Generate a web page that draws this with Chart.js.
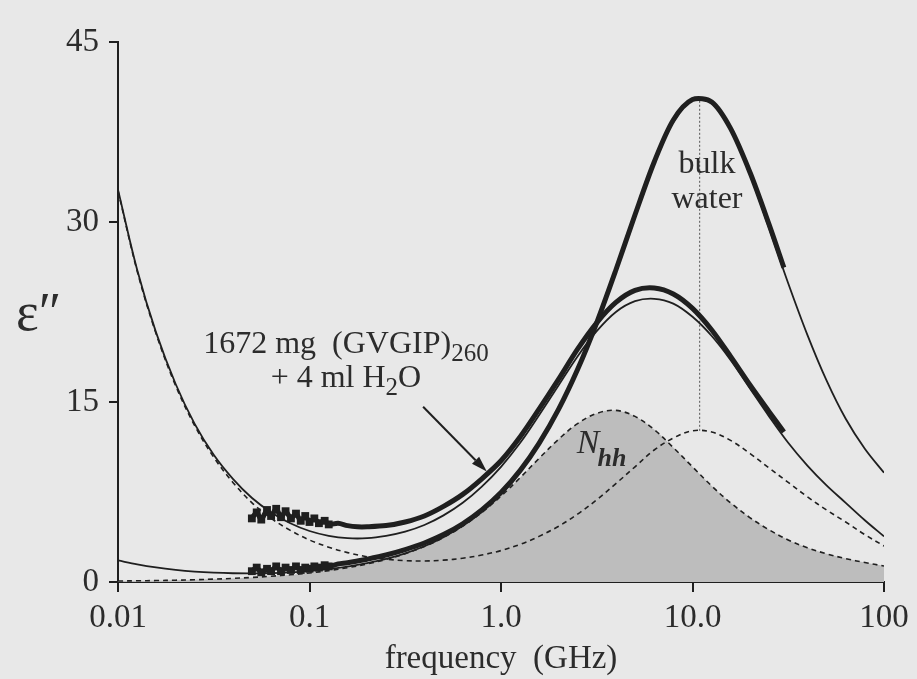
<!DOCTYPE html>
<html>
<head>
<meta charset="utf-8">
<script src="https://cdn.jsdelivr.net/npm/chart.js@4.4.1/dist/chart.umd.min.js"></script>
<style>
  html, body { margin: 0; padding: 0; background: #e8e8e8; }
  #wrap { width: 917px; height: 679px; position: relative; }
</style>
</head>
<body>
<div id="wrap"><canvas id="c" width="917" height="679"></canvas></div>
<script>
// ---- tick values / labels ----
const xTickVals = [0.01, 0.1, 1, 10, 100];
const xTickLabels = ['0.01', '0.1', '1.0', '10.0', '100'];
const yTickVals = [0, 15, 30, 45];

// ---- fitted curves (frequency in GHz) ----
const freqFit = [0.01, 0.0126, 0.0158, 0.02, 0.0251, 0.0316, 0.0398, 0.0501, 0.0631, 0.0794,
                 0.1, 0.126, 0.158, 0.2, 0.251, 0.316, 0.398, 0.501, 0.631, 0.794,
                 1, 1.26, 1.58, 2, 2.51, 3.16, 3.98, 5.01, 6.31, 7.94,
                 10, 12.6, 15.8, 20, 25.1, 31.6, 39.8, 50.1, 63.1, 79.4, 100];

// total fit for the (GVGIP)260 sample
const proteinFit = [32.7, 26.0, 20.8, 16.5, 13.2, 10.6, 8.6, 7.0, 5.8, 4.9,
                    4.25, 3.85, 3.65, 3.65, 3.85, 4.2, 4.75, 5.55, 6.6, 7.95,
                    9.6, 11.6, 13.9, 16.4, 18.8, 20.9, 22.5, 23.4, 23.6, 23.2,
                    22.1, 20.5, 18.5, 16.1, 13.8, 11.6, 9.7, 8.05, 6.6, 5.15, 3.8];

// dashed: conductivity + bulk-water-like component of the sample
const waterComponent = [32.6, 25.9, 20.7, 16.35, 13.05, 10.4, 8.3, 6.6, 5.3, 4.3,
                        3.5, 2.9, 2.45, 2.1, 1.9, 1.78, 1.75, 1.82, 1.98, 2.25,
                        2.62, 3.14, 3.8, 4.65, 5.65, 6.85, 8.2, 9.6, 11.0, 12.0,
                        12.6, 12.5, 11.8, 10.7, 9.5, 8.3, 7.1, 6.0, 5.0, 3.95, 3.0];

// dashed + shaded: N_hh component
const nhhComponent = [0.08, 0.1, 0.12, 0.15, 0.19, 0.24, 0.3, 0.38, 0.48, 0.6,
                      0.75, 0.95, 1.19, 1.5, 1.88, 2.36, 2.96, 3.71, 4.65, 5.8,
                      7.15, 8.7, 10.3, 11.9, 13.2, 14.05, 14.3, 13.8, 12.7, 11.2,
                      9.6, 8.0, 6.6, 5.35, 4.35, 3.5, 2.85, 2.35, 1.95, 1.62, 1.33];

// fit for bulk water
const bulkFit = [1.8, 1.47, 1.21, 1.01, 0.87, 0.78, 0.73, 0.72, 0.74, 0.8,
                 0.91, 1.07, 1.28, 1.57, 1.92, 2.39, 2.98, 3.74, 4.68, 5.86,
                 7.33, 9.2, 11.45, 14.3, 17.6, 21.55, 25.95, 30.6, 34.95, 38.35,
                 40.15, 39.9, 37.7, 33.9, 29.5, 24.9, 20.6, 16.8, 13.6, 11.1, 9.1];

// ---- measured data ----
const freqData = [0.05, 0.053, 0.056, 0.06, 0.063, 0.067, 0.071, 0.075, 0.08, 0.085,
                  0.09, 0.095, 0.1, 0.106, 0.112, 0.12, 0.126, 0.141, 0.158, 0.178,
                  0.2, 0.251, 0.316, 0.398, 0.501, 0.631, 0.794, 1, 1.26, 1.58,
                  2, 2.51, 3.16, 3.98, 5.01, 6.31, 7.94, 10, 12.6, 15.8,
                  20, 25.1, 30];

const proteinData = [5.3, 5.8, 5.2, 6.0, 5.5, 6.1, 5.4, 5.9, 5.3, 5.7,
                     5.1, 5.5, 5.0, 5.3, 4.9, 5.1, 4.8, 4.9, 4.7, 4.6,
                     4.6, 4.7, 5.0, 5.5, 6.3, 7.3, 8.6, 10.1, 12.1, 14.4,
                     16.9, 19.4, 21.6, 23.3, 24.3, 24.5, 24.0, 22.8, 21.0, 18.8,
                     16.4, 14.2, 12.5];

const bulkData = [0.9, 1.2, 0.8, 1.1, 0.9, 1.3, 0.9, 1.2, 1.0, 1.3,
                  1.0, 1.2, 1.1, 1.3, 1.2, 1.4, 1.3, 1.5, 1.6, 1.75,
                  1.9, 2.25, 2.7, 3.25, 3.95, 4.85, 6.0, 7.45, 9.3, 11.55,
                  14.4, 17.7, 21.6, 26.0, 30.6, 35.0, 38.5, 40.2, 40.0, 37.8,
                  34.1, 29.8, 26.2];

// bulk-water peak marker (vertical dotted line)
const peakFreq = [10.9, 10.9];
const peakLine = [12.6, 40.3];

// ---- helpers ----
const pts = (xs, ys) => xs.map((v, i) => ({ x: v, y: ys[i] }));
const INK = '#1f1f1f';
const TEXT = '#2c2c2c';
const FONT = '"Liberation Serif", "Times New Roman", serif';

const annotations = {
  sampleLabel: { f: 0.155, line1: 19.1, line2: 16.25 },
  arrow: { f0: 0.392, v0: 14.6, f1: 0.843, v1: 9.2 },
  bulk: { f: 11.9, line1: 34.1, line2: 31.2 },
  nhh: { f: 2.49, v: 10.75 },
  yTitle: { v: 21.0 }
};

const bgPlugin = {
  id: 'bg',
  beforeDraw(chart) {
    const { ctx, width, height } = chart;
    ctx.save();
    ctx.fillStyle = '#e8e8e8';
    ctx.fillRect(0, 0, width, height);
    ctx.restore();
  }
};

const annotatePlugin = {
  id: 'annot',
  afterDatasetsDraw(chart) {
    const { ctx, scales: { x, y }, chartArea } = chart;
    ctx.save();
    ctx.fillStyle = TEXT;
    ctx.strokeStyle = INK;
    ctx.textBaseline = 'alphabetic';

    // sample label
    const a = annotations.sampleLabel;
    const cx = x.getPixelForValue(a.f);
    ctx.font = '32px ' + FONT;
    const t1 = '1672 mg  (GVGIP)';
    const w1 = ctx.measureText(t1).width;
    ctx.font = '25px ' + FONT;
    const s1 = '260';
    const ws1 = ctx.measureText(s1).width;
    let left = cx - (w1 + ws1) / 2;
    const b1 = y.getPixelForValue(a.line1);
    ctx.textAlign = 'left';
    ctx.font = '32px ' + FONT;
    ctx.fillText(t1, left, b1);
    ctx.font = '25px ' + FONT;
    ctx.fillText(s1, left + w1, b1 + 8);

    // line 2: + 4 ml H2O
    ctx.font = '32px ' + FONT;
    const p1 = '+ 4 ml H', p3 = 'O';
    const wp1 = ctx.measureText(p1).width, wp3 = ctx.measureText(p3).width;
    ctx.font = '25px ' + FONT;
    const wp2 = ctx.measureText('2').width;
    left = cx - (wp1 + wp2 + wp3) / 2;
    const b2 = y.getPixelForValue(a.line2);
    ctx.font = '32px ' + FONT;
    ctx.fillText(p1, left, b2);
    ctx.font = '25px ' + FONT;
    ctx.fillText('2', left + wp1, b2 + 8);
    ctx.font = '32px ' + FONT;
    ctx.fillText(p3, left + wp1 + wp2, b2);

    // arrow
    const ar = annotations.arrow;
    const x0 = x.getPixelForValue(ar.f0), y0 = y.getPixelForValue(ar.v0);
    const x1 = x.getPixelForValue(ar.f1), y1 = y.getPixelForValue(ar.v1);
    const ang = Math.atan2(y1 - y0, x1 - x0);
    const hl = 16, hw = 5;
    ctx.lineWidth = 2;
    ctx.beginPath();
    ctx.moveTo(x0, y0);
    ctx.lineTo(x1 - hl * Math.cos(ang), y1 - hl * Math.sin(ang));
    ctx.stroke();
    ctx.fillStyle = INK;
    ctx.beginPath();
    ctx.moveTo(x1, y1);
    ctx.lineTo(x1 - hl * Math.cos(ang) + hw * Math.sin(ang), y1 - hl * Math.sin(ang) - hw * Math.cos(ang));
    ctx.lineTo(x1 - hl * Math.cos(ang) - hw * Math.sin(ang), y1 - hl * Math.sin(ang) + hw * Math.cos(ang));
    ctx.closePath();
    ctx.fill();

    // bulk water label
    ctx.fillStyle = TEXT;
    const bw = annotations.bulk;
    ctx.textAlign = 'center';
    ctx.font = '32px ' + FONT;
    ctx.fillText('bulk', x.getPixelForValue(bw.f), y.getPixelForValue(bw.line1));
    ctx.fillText('water', x.getPixelForValue(bw.f), y.getPixelForValue(bw.line2));

    // N_hh label
    const nh = annotations.nhh;
    ctx.textAlign = 'left';
    ctx.font = 'italic 34px ' + FONT;
    const nx = x.getPixelForValue(nh.f), ny = y.getPixelForValue(nh.v);
    ctx.fillText('N', nx, ny);
    const wn = ctx.measureText('N').width;
    ctx.font = 'italic bold 26px ' + FONT;
    ctx.fillText('hh', nx + wn - 2, ny + 13);

    // y title
    ctx.font = '54px ' + FONT;
    ctx.textAlign = 'left';
    ctx.fillText('\u03B5\u2033', chartArea.left - 102, y.getPixelForValue(annotations.yTitle.v));
    ctx.restore();
  }
};

const noisyPoint = c => (c.raw && c.raw.x < 0.13 ? 2 : 0);

const ctx = document.getElementById('c').getContext('2d');
new Chart(ctx, {
  type: 'line',
  data: {
    datasets: [
      { label: 'bulk water data', data: pts(freqData, bulkData), borderColor: INK, backgroundColor: INK,
        borderWidth: 5, pointRadius: noisyPoint, pointStyle: 'rect', tension: 0.3, order: 0 },
      { label: '(GVGIP)260 data', data: pts(freqData, proteinData), borderColor: INK, backgroundColor: INK,
        borderWidth: 5, pointRadius: noisyPoint, pointStyle: 'rect', tension: 0.3, order: 1 },
      { label: 'bulk water fit', data: pts(freqFit, bulkFit), borderColor: INK,
        borderWidth: 1.8, pointRadius: 0, tension: 0.35, order: 2 },
      { label: '(GVGIP)260 fit', data: pts(freqFit, proteinFit), borderColor: INK,
        borderWidth: 1.8, pointRadius: 0, tension: 0.35, order: 3 },
      { label: 'water component', data: pts(freqFit, waterComponent), borderColor: INK,
        borderWidth: 1.6, borderDash: [5, 4], pointRadius: 0, tension: 0.35, order: 4 },
      { label: 'peak', data: pts(peakFreq, peakLine), borderColor: '#555555',
        borderWidth: 1, borderDash: [2, 2], pointRadius: 0, order: 5 },
      { label: 'Nhh', data: pts(freqFit, nhhComponent), borderColor: INK, backgroundColor: '#bdbdbd',
        fill: 'origin', borderWidth: 1.6, borderDash: [5, 4], pointRadius: 0,
        tension: 0.35, order: 10 }
    ]
  },
  options: {
    responsive: false,
    animation: false,
    events: [],
    layout: { autoPadding: false, padding: { left: 0, right: 33, top: 42, bottom: 0 } },
    plugins: { legend: { display: false }, tooltip: { enabled: false } },
    scales: {
      x: {
        type: 'logarithmic',
        min: 0.01, max: 100,
        afterBuildTicks(axis) { axis.ticks = xTickVals.map(v => ({ value: v, major: true })); },
        afterFit(scale) { scale.height = 97; },
        ticks: {
          autoSkip: false, maxRotation: 0, padding: 7, color: TEXT,
          font: { family: FONT, size: 33 },
          callback: (v, i) => xTickLabels[i]
        },
        grid: { display: true, drawOnChartArea: false, drawTicks: true, tickLength: 10, color: INK, lineWidth: 2 },
        border: { display: true, color: INK, width: 2 },
        title: { display: true, text: 'frequency  (GHz)', color: TEXT, font: { family: FONT, size: 33 }, padding: { top: -11, bottom: 0 } }
      },
      y: {
        type: 'linear',
        min: 0, max: 45,
        afterBuildTicks(axis) { axis.ticks = yTickVals.map(v => ({ value: v })); },
        afterFit(scale) { scale.width = 118; },
        ticks: { padding: 10, color: TEXT, font: { family: FONT, size: 33 } },
        grid: { display: true, drawOnChartArea: false, drawTicks: true, tickLength: 9, color: INK, lineWidth: 2 },
        border: { display: true, color: INK, width: 2 }
      }
    }
  },
  plugins: [bgPlugin, annotatePlugin]
});
</script>
</body>
</html>
